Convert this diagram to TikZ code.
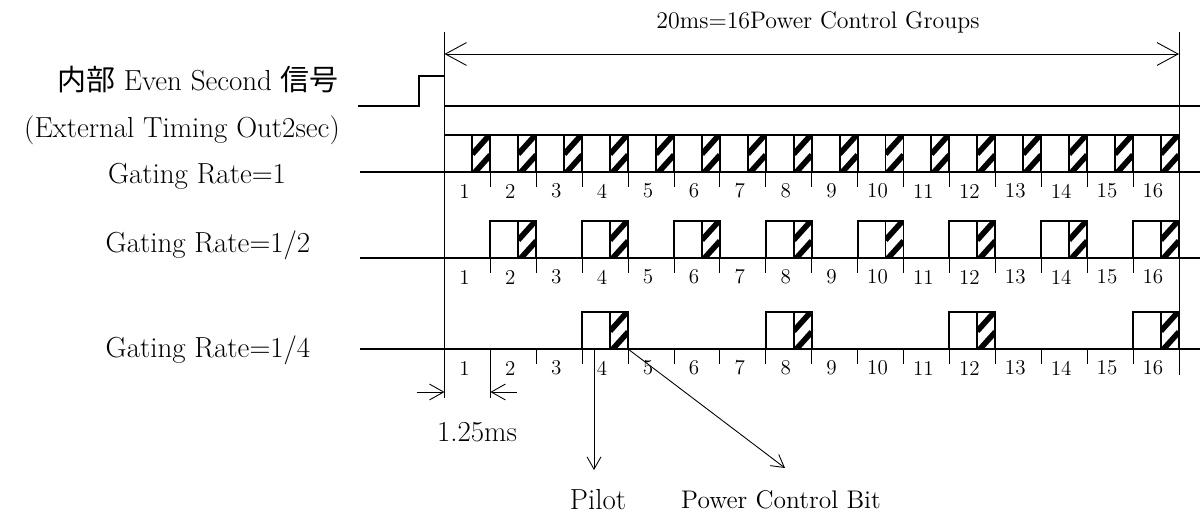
\documentclass[tikz,border=0pt]{standalone}
\usepackage{fontspec}
\newfontfamily\cjk{Noto Sans CJK JP}
\usetikzlibrary{arrows.meta}

% one power control group: slot #1, top #2, base #3
\newcommand{\pcgslot}[3]{%
  \pgfmathsetmacro{\xa}{444.5+(#1-1)*45.9}
  \pgfmathsetmacro{\xb}{\xa+45.9}
  \pgfmathsetmacro{\xh}{\xb-18}
  \begin{scope}
    \clip (\xh,#2) rectangle (\xb,#3);
    \draw[hatch] (\xh,#2+19) -- (\xb,#2-1);
    \draw[hatch] (\xh,#2+40) -- (\xb,#2+20);
  \end{scope}
  \draw[box] (\xa,#3) rectangle (\xb,#2);
  \draw[box] (\xh,#2) -- (\xh,#3);
}

\begin{document}
\begin{tikzpicture}[x=0.02cm,y=-0.02cm,every node/.append style={font=\fontsize{16.5}{19}\selectfont}]
 \tikzstyle{e} = [line width=1.1pt]
 \tikzstyle{box} = [line width=1.1pt]
 \tikzstyle{hatch} = [line width=3.2pt]
 \tikzstyle{t} = [line width=.5pt]
 \tikzstyle{num} = [font=\fontsize{12}{14}\selectfont]
 \tikzstyle{big} = [t,{Straight Barb[length=12pt,width=13pt]}-{Straight Barb[length=12pt,width=13pt]}]
 \tikzstyle{dim} = [t,-{Straight Barb[length=8pt,width=9pt]}]
 \tikzstyle{pt} = [t,-{Straight Barb[length=7pt,width=8pt]}]
    \useasboundingbox (0,0) rectangle (1200,517);
    %%

    % labels
    \node[anchor=east] (even) at (345,80) {{\cjk 内部} Even Second {\cjk 信号}};
    \node (ext) at (182,130) {(External Timing Out2sec)};
    \node (g1) at (197,176) {Gating Rate=1};
    \node (g2) at (208,245) {Gating Rate=1/2};
    \node (g4) at (208,350) {Gating Rate=1/4};
    \node[font=\fontsize{13.6}{16}\selectfont] (title) at (818,22) {20ms=16Power Control Groups};

    % frame lines
    \coordinate (ta) at (444.5,54); \coordinate (tb) at (1179,54);
    \draw[t] (444.5,32) -- (444.5,398);
    \draw[t] (1179,32) -- (1179,375);
    \draw[big] (ta) -- (tb);

    % even second pulse
    \draw[e] (358,106) -- (419,106) -- (419,76) -- (444.5,76) -- (444.5,106) -- (1200,106);

    % rows
    \draw[e] (360,172) -- (1200,172);
    \draw[e] (360,258) -- (1200,258);
    \draw[e] (360,349) -- (1200,349);
    \foreach \i in {1,...,16} \pcgslot{\i}{135}{172};
    \foreach \i in {2,4,...,16} \pcgslot{\i}{221}{258};
    \foreach \i in {4,8,12,16} \pcgslot{\i}{312}{349};

    % ticks and numbers
    \foreach \i in {1,...,15} {
        \draw[t] ({444.5+\i*45.9},172) -- ++(0,15);
        \draw[t] ({444.5+\i*45.9},258) -- ++(0,15);
        \draw[t] ({444.5+\i*45.9},349) -- ++(0,15);
    }
    \draw[t] (490.4,364) -- (490.4,398);
    \foreach \i in {1,...,16} {
        \node[num] (n1-\i) at ({444.5+(\i-0.5)*45.9-3},191) {\i};
        \node[num] (n2-\i) at ({444.5+(\i-0.5)*45.9-3},277) {\i};
        \node[num] (n3-\i) at ({444.5+(\i-0.5)*45.9-3},368) {\i};
    }

    % 1.25ms
    \coordinate (da) at (444.5,392); \coordinate (db) at (490.4,392);
    \coordinate (dl) at (417,392); \coordinate (dr) at (517,392);
    \draw[dim] (dl) -- (da); \draw[dim] (dr) -- (db);
    \node (ms) at (477,432) {1.25ms};

    % pilot / power control bit
    \coordinate (pa) at (594,349); \coordinate (pb) at (594,470);
    \coordinate (ca) at (628,349); \coordinate (cb) at (785,468);
    \draw[pt] (pa) -- (pb);
    \draw[pt] (ca) -- (cb);
    \node (pilot) at (598,500) {Pilot};
    \node[font=\fontsize{14.5}{17}\selectfont] (pcb) at (781,500) {Power Control Bit};

\end{tikzpicture}
\end{document}
